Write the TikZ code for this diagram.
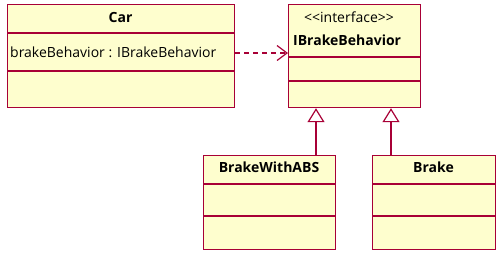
\documentclass[tikz,border=0pt]{standalone}
\usepackage{fontspec}
\setmainfont{Open Sans}
\usetikzlibrary{positioning,arrows.meta}
\definecolor{umlborder}{HTML}{A80036}
\definecolor{umlfill}{HTML}{FEFECE}

\begin{document}
\begin{tikzpicture}[
  x=1pt, y=-1pt,
  font=\fontsize{14}{16}\selectfont,
  classbox/.style={draw=umlborder, fill=umlfill, line width=1.2pt, anchor=north west, inner sep=0pt},
  divider/.style={draw=umlborder, line width=1.2pt},
  classname/.style={font=\fontsize{14}{16}\selectfont\bfseries},
  realize/.style={draw=umlborder, line width=1.2pt, dash pattern=on 5pt off 4pt, -{Straight Barb[length=10pt,width=15pt]}},
  inherit/.style={draw=umlborder, line width=1.2pt, -{Triangle[open, fill=white, length=14pt, width=17pt]}}
]
\useasboundingbox (0,0) rectangle (500,255);

% class boxes
\node[classbox, minimum width=227pt, minimum height=103pt] (car) at (7,4) {};
\node[classbox, minimum width=132pt, minimum height=103pt] (iface) at (288,4) {};
\node[classbox, minimum width=132pt, minimum height=94pt] (abs) at (203,155) {};
\node[classbox, minimum width=123pt, minimum height=94pt] (brake) at (372,155) {};

% compartments
\draw[divider] ([yshift=-29pt]car.north west) -- ([yshift=-29pt]car.north east);
\draw[divider] ([yshift=-67pt]car.north west) -- ([yshift=-67pt]car.north east);
\draw[divider] ([yshift=-53pt]iface.north west) -- ([yshift=-53pt]iface.north east);
\draw[divider] ([yshift=-77pt]iface.north west) -- ([yshift=-77pt]iface.north east);
\draw[divider] ([yshift=-29pt]abs.north west) -- ([yshift=-29pt]abs.north east);
\draw[divider] ([yshift=-61pt]abs.north west) -- ([yshift=-61pt]abs.north east);
\draw[divider] ([yshift=-29pt]brake.north west) -- ([yshift=-29pt]brake.north east);
\draw[divider] ([yshift=-61pt]brake.north west) -- ([yshift=-61pt]brake.north east);

% texts
\node[classname] (cartitle) at (120.5,17) {Car};
\node[anchor=west, inner sep=0pt] (carattr) at (10,52) {brakeBehavior : IBrakeBehavior};
\node (stereo) at (349,17) {{<}{<}interface{>}{>}};
\node[classname, anchor=west, inner sep=0pt] (ifacetitle) at (293,40) {IBrakeBehavior};
\node[classname] (abstitle) at (269,167) {BrakeWithABS};
\node[classname] (braketitle) at (433.5,167) {Brake};

% relations
\coordinate (absup) at (316,0);
\coordinate (brakeup) at (391,0);
\draw[realize] (car.east |- 0,53) -- (iface.west |- 0,53);
\draw[inherit] (abs.north -| absup) -- (iface.south -| absup);
\draw[inherit] (brake.north -| brakeup) -- (iface.south -| brakeup);
\end{tikzpicture}
\end{document}
